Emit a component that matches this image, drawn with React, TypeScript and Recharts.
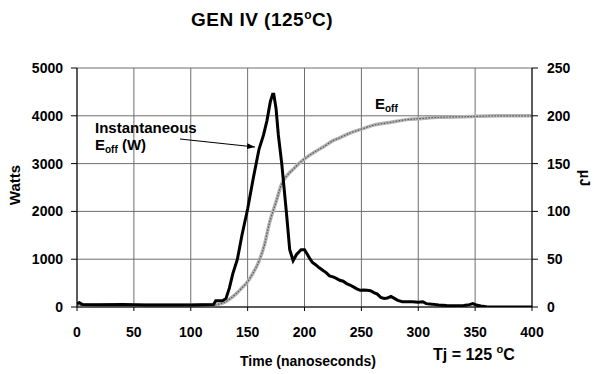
import React from 'react'
import {
  ComposedChart,
  Line,
  XAxis,
  YAxis,
  CartesianGrid
} from 'recharts'

// time axis (ns) and the two measured traces
const timeTicks = [0, 50, 100, 150, 200, 250, 300, 350, 400]
const wattTicks = [0, 1000, 2000, 3000, 4000, 5000]
const ujTicks = [0, 50, 100, 150, 200, 250]

// instantaneous turn-off power, Watts
const powerTime = [
  0, 2, 5, 20, 40, 60, 80, 100, 120, 122, 128, 131, 134, 137, 141, 145, 150,
  155, 160, 164, 167, 170, 172, 173, 175, 177, 180, 184, 187, 190, 193, 197,
  200, 203, 205, 207, 210, 213, 216, 219, 222, 225, 228, 231, 234, 237, 240,
  243, 246, 249, 252, 255, 258, 261, 264, 267, 270, 273, 276, 279, 282, 286,
  290, 295, 300, 304, 307, 312, 318, 325, 333, 340, 345, 348, 351, 355, 360,
  370, 380, 390, 400
]
const powerWatts = [
  70, 90, 50, 45, 50, 40, 40, 40, 50, 130, 130, 180, 400, 700, 1000, 1500,
  2050, 2700, 3300, 3600, 3900, 4300, 4450, 4450, 4150, 3600, 3000, 2000,
  1200, 970, 1100, 1200, 1200, 1080, 1000, 930, 880, 820, 770, 720, 650, 630,
  600, 560, 540, 490, 460, 420, 380, 350, 355, 350, 340, 300, 270, 200, 180,
  190, 220, 180, 140, 110, 110, 110, 100, 110, 70, 60, 40, 30, 25, 30, 50, 70,
  40, 20, 5, 0, 0, 0, 0
]

// cumulative turn-off energy, microjoules
const energyTime = [
  0, 40, 80, 120, 125, 130, 135, 140, 145, 149, 155, 160, 165, 169, 175, 180,
  185, 190, 195, 200, 210, 216, 225, 231, 240, 250, 260, 275, 290, 301, 318,
  340, 370, 400
]
const energyUj = [
  2, 2, 2, 2, 3, 5, 9, 14, 20, 25, 36, 48, 66, 87, 110, 129, 138, 144, 150,
  155, 163, 167, 174, 177, 182, 186, 190, 193, 196, 197, 198.5, 199, 200, 200
]

const powerData = powerTime.map((t, i) => ({ t, w: powerWatts[i] }))
const energyData = energyTime.map((t, i) => ({ t, e: energyUj[i] }))

const FONT = '"Liberation Sans", Arial, sans-serif'
const tickStyle = { fontSize: 14, fontWeight: 'bold', fill: '#000', fontFamily: FONT }

export default function App() {
  return (
    <div
      style={{
        position: 'absolute',
        left: 0,
        top: 0,
        width: 594,
        height: 374,
        background: '#fff',
        fontFamily: FONT
      }}
    >
      <ComposedChart
        width={594}
        height={374}
        margin={{ top: 68, right: 0, bottom: 0, left: 0 }}
      >
        <CartesianGrid
          yAxisId="w"
          stroke="#6e6e6e"
          strokeWidth={1}
          horizontalValues={wattTicks}
          verticalValues={timeTicks}
        />
        <XAxis
          type="number"
          dataKey="t"
          domain={[0, 400]}
          ticks={timeTicks}
          height={67}
          tick={tickStyle}
          tickSize={4}
          tickMargin={16}
          stroke="#000"
          allowDataOverflow
        />
        <YAxis
          yAxisId="w"
          orientation="left"
          domain={[0, 5000]}
          ticks={wattTicks}
          width={77}
          tick={tickStyle}
          tickSize={6}
          tickMargin={8}
          stroke="#000"
          allowDataOverflow
        />
        <YAxis
          yAxisId="uj"
          orientation="right"
          domain={[0, 250]}
          ticks={ujTicks}
          width={62}
          tick={{ ...tickStyle, textAnchor: 'start' }}
          tickSize={6}
          tickMargin={9}
          stroke="#000"
          allowDataOverflow
        />
        <Line
          yAxisId="uj"
          data={energyData}
          dataKey="e"
          type="monotone"
          stroke="#b4b4b4"
          strokeWidth={3.5}
          dot={false}
          isAnimationActive={false}
        />
        <Line
          yAxisId="uj"
          data={energyData}
          dataKey="e"
          type="monotone"
          stroke="#5a5a5a"
          strokeWidth={1.2}
          strokeDasharray="1.5 1.5"
          dot={false}
          isAnimationActive={false}
        />
        <Line
          yAxisId="w"
          data={powerData}
          dataKey="w"
          type="linear"
          stroke="#000"
          strokeWidth={3}
          dot={false}
          isAnimationActive={false}
        />
      </ComposedChart>

      <svg
        width={594}
        height={374}
        style={{ position: 'absolute', left: 0, top: 0, pointerEvents: 'none' }}
        fontFamily={FONT}
        fontWeight="bold"
      >
        <defs>
          <marker
            id="head"
            markerWidth="8"
            markerHeight="6"
            refX="8"
            refY="3"
            orient="auto"
            markerUnits="userSpaceOnUse"
          >
            <path d="M0,0 L8,3 L0,6 Z" fill="#000" />
          </marker>
        </defs>

        <text x={262} y={26} textAnchor="middle" fontSize={19} letterSpacing={0.5}>
          GEN IV (125
          <tspan dy={-7} fontSize={12}>o</tspan>
          <tspan dy={7}>C)</tspan>
        </text>

        <text x={19.5} y={185} textAnchor="middle" fontSize={15} transform="rotate(-90 19.5 185)">
          Watts
        </text>
        <text x={580} y={178} textAnchor="middle" fontSize={14} transform="rotate(90 580 178)">
          μJ
        </text>

        <text x={308} y={366} textAnchor="middle" fontSize={14}>
          Time (nanoseconds)
        </text>
        <text x={433} y={360} fontSize={16}>
          Tj = 125{' '}
          <tspan dy={-7} fontSize={11}>o</tspan>
          <tspan dy={7}>C</tspan>
        </text>

        <text x={95} y={133} fontSize={15}>
          Instantaneous
        </text>
        <text x={95} y={150} fontSize={15}>
          E<tspan dy={3} fontSize={10}>off</tspan>
          <tspan dy={-3}> (W)</tspan>
        </text>
        <line
          x1={180}
          y1={139}
          x2={255}
          y2={147}
          stroke="#000"
          strokeWidth={1.2}
          markerEnd="url(#head)"
        />

        <text x={375} y={108.5} fontSize={15}>
          E<tspan dy={3} fontSize={10}>off</tspan>
        </text>
      </svg>
    </div>
  )
}
